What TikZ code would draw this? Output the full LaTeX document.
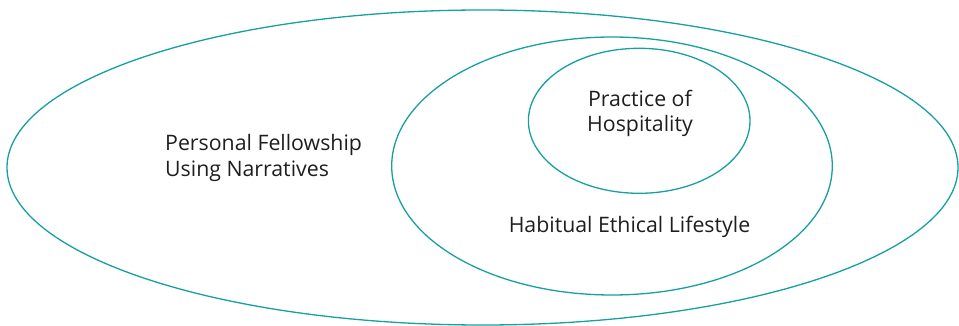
\documentclass[tikz,border=0pt]{standalone}
\usepackage{fontspec}
\setmainfont{Open Sans}
\definecolor{ringteal}{RGB}{22,160,162}
\definecolor{labelgray}{RGB}{30,30,30}
\tikzset{
  ring/.style={draw=ringteal, line width=1.3pt},
  label/.style={text=labelgray, font=\fontsize{21.3}{25}\selectfont, inner sep=0pt}
}
\begin{document}
\begin{tikzpicture}[x=1pt,y=-1pt]
   \useasboundingbox (0,0) rectangle (959,326);
   % three nested rings
   \draw[ring] (482.5,167.5) ellipse[x radius=475.5, y radius=157.5];
   \draw[ring] (612,166) ellipse[x radius=220.3, y radius=129];
   \draw[ring] (639.2,120.8) ellipse[x radius=110.8, y radius=72.5];

   % base = baseline of the last line
   \node[label, align=left, anchor=base west] (fellowship) at (165,176)
     {Personal Fellowship\\Using Narratives};
   \node[label, align=center, anchor=base] (hospitality) at (640,131.5)
     {Practice of\\Hospitality};
   \node[label, anchor=base] (lifestyle) at (629.5,232.7)
     {Habitual Ethical Lifestyle};
\end{tikzpicture}
\end{document}
